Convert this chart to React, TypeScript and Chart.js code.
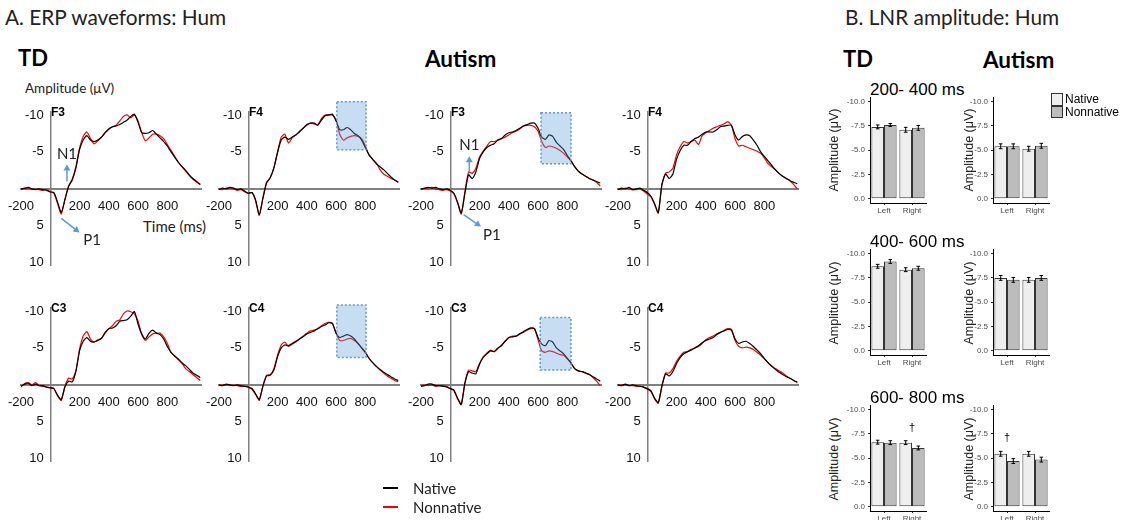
import React, { useEffect, useRef } from 'react';
import { Chart, registerables } from 'chart.js';

Chart.register(...registerables);

// ---------------- ERP data ----------------
const times = [-200, -175, -150, -125, -100, -75, -50, -25, 0, 25, 50, 75, 100, 125, 150, 175, 200, 225, 250, 275, 300, 325, 350, 375, 400, 425, 450, 475, 500, 525, 550, 575, 600, 625, 650, 675, 700, 725, 750, 775, 800, 825, 850, 875, 900, 925, 950, 975, 1000, 1025];
const erpXTicks = [-200, 200, 400, 600, 800];
const erpYTicks = [-10, -5, 5, 10];

const tdF3Native = [0, -0.1, -0.2, 0, 0.1, 0, 0.1, 0.2, 0.4, 0.5, 1.8, 3.2, 1.5, -0.3, -1.2, -2.8, -5.3, -6.6, -7.2, -6.6, -6.4, -6.6, -7.0, -7.6, -8.1, -8.4, -8.5, -8.7, -9.0, -9.3, -9.8, -10.1, -9.0, -7.6, -7.5, -7.6, -7.9, -7.4, -6.9, -6.4, -5.8, -5.0, -4.3, -3.6, -3.0, -2.5, -1.9, -1.4, -1.0, -0.6];
const tdF3Nonnative = [0.1, 0, -0.1, 0.1, 0, 0.1, 0.2, 0.1, 0.4, 0.6, 2.0, 3.4, 1.4, -0.4, -1.3, -3.0, -5.5, -7.1, -7.7, -6.8, -6.1, -6.5, -7.0, -7.6, -8.1, -8.4, -8.6, -9.2, -9.8, -10.0, -9.6, -10.0, -9.2, -7.6, -6.5, -6.9, -7.4, -7.4, -7.2, -6.8, -6.0, -5.2, -4.4, -3.6, -3.0, -2.4, -1.8, -1.3, -0.9, -0.6];

const tdF4Native = [0.1, -0.1, 0, -0.2, -0.1, 0.1, 0, 0.3, 0.6, 0.5, 1.5, 3.5, 1.3, -0.8, -1.5, -2.8, -4.9, -6.6, -7.0, -6.7, -7.0, -7.3, -7.7, -8.2, -8.7, -8.9, -8.9, -8.6, -9.3, -9.9, -10.0, -10.1, -9.2, -8.0, -8.0, -8.3, -8.0, -7.5, -7.2, -6.6, -5.6, -4.6, -4.0, -3.4, -3.0, -2.6, -2.1, -1.6, -1.2, -0.9];
const tdF4Nonnative = [0, 0.1, -0.1, -0.1, 0, 0.2, 0.1, 0.4, 0.6, 0.5, 1.6, 3.6, 1.2, -0.9, -1.5, -2.9, -5.0, -7.0, -7.4, -6.2, -6.9, -7.3, -7.8, -8.2, -8.6, -8.9, -8.8, -8.7, -9.5, -10.0, -10.0, -10.0, -9.3, -7.4, -6.6, -6.9, -7.1, -7.2, -7.1, -6.8, -5.8, -4.6, -4.0, -3.5, -2.6, -2.0, -1.7, -1.4, -1.2, -0.9];

const autF3Native = [0, -0.1, -0.2, -0.1, -0.2, 0, 0.1, 0, 0.2, 0.6, 1.8, 3.3, 0.6, -1.9, -1.4, -2.3, -4.1, -5.0, -5.6, -5.9, -6.1, -6.6, -6.8, -7.3, -7.6, -7.7, -7.9, -8.2, -8.5, -8.7, -8.9, -8.9, -8.2, -7.0, -6.7, -7.3, -7.1, -6.3, -5.8, -5.3, -4.5, -3.8, -3.0, -2.4, -2.0, -1.7, -1.4, -1.2, -1.0, -0.8];
const autF3Nonnative = [0.1, 0, -0.1, -0.2, 0, 0.1, 0.2, 0.1, 0.3, 0.7, 1.9, 3.4, 0.4, -2.3, -2.1, -2.8, -4.3, -5.1, -5.8, -6.4, -6.4, -6.6, -6.8, -7.0, -7.3, -7.6, -7.8, -8.1, -8.5, -8.6, -8.6, -8.4, -7.8, -6.4, -5.6, -5.8, -5.7, -5.5, -5.2, -4.8, -4.3, -3.8, -3.0, -2.4, -2.0, -1.7, -1.4, -1.2, -0.9, -0.4];

const autF4Native = [0.1, -0.1, 0, -0.2, 0.1, 0, -0.1, 0.2, 0.5, 1.0, 2.0, 3.2, -0.6, -2.0, -1.4, -2.0, -4.0, -5.2, -5.9, -5.9, -6.4, -6.8, -7.0, -7.4, -7.7, -7.7, -7.7, -8.0, -8.4, -8.5, -8.6, -8.6, -7.3, -6.6, -7.1, -7.3, -7.2, -6.6, -5.9, -5.0, -4.4, -3.8, -3.2, -2.6, -2.1, -1.7, -1.4, -1.1, -0.9, -0.7];
const autF4Nonnative = [0, 0.1, -0.1, 0, 0.1, 0.1, 0, 0.3, 0.7, 1.1, 2.1, 3.3, -0.5, -2.1, -2.3, -2.8, -4.6, -5.7, -6.4, -6.2, -6.4, -6.6, -6.0, -7.2, -7.6, -7.9, -8.2, -8.4, -8.6, -8.8, -9.1, -8.6, -6.8, -5.8, -5.9, -5.7, -5.5, -5.3, -5.1, -4.8, -4.2, -3.4, -3.0, -2.6, -2.1, -1.7, -1.4, -1.1, -0.6, 0.0];

const tdC3Native = [0.2, -0.1, -0.2, 0.1, -0.1, 0.1, 0.1, 0.3, 0.4, 0.5, 1.4, 2.0, 0.3, -0.5, -0.4, -1.8, -4.6, -5.9, -6.4, -5.9, -5.8, -6.0, -6.3, -7.1, -7.6, -7.7, -8.0, -8.6, -8.7, -8.8, -9.3, -9.9, -8.2, -6.9, -6.2, -7.0, -7.4, -7.0, -6.8, -6.2, -5.2, -4.4, -3.9, -3.5, -3.0, -2.6, -2.1, -1.6, -1.3, -1.0];
const tdC3Nonnative = [0.3, -0.2, -0.3, 0, -0.3, 0.1, 0.2, 0.3, 0.4, 0.5, 1.5, 2.1, 0.2, -0.9, -0.8, -1.9, -4.8, -6.6, -7.2, -6.2, -5.8, -6.1, -6.3, -7.0, -7.6, -8.0, -8.6, -8.8, -9.6, -10.0, -9.9, -9.6, -8.6, -6.8, -6.0, -6.5, -6.9, -7.0, -7.0, -6.5, -5.6, -4.4, -3.9, -3.4, -2.9, -2.2, -1.8, -1.4, -1.0, -0.6];

const tdC4Native = [0, 0.1, -0.1, 0, 0.1, 0, 0.1, 0.2, 0.3, 0.5, 1.2, 2.0, 0.2, -1.2, -1.3, -2.0, -3.8, -5.0, -5.4, -5.3, -5.6, -5.9, -6.2, -6.5, -6.9, -7.1, -7.3, -7.6, -7.9, -8.1, -8.4, -8.3, -7.0, -6.4, -6.6, -6.8, -6.6, -6.2, -5.6, -5.0, -4.4, -3.6, -3.0, -2.5, -2.1, -1.7, -1.4, -1.1, -0.8, -0.6];
const tdC4Nonnative = [0.1, 0, 0, 0.1, 0, 0.1, 0.2, 0.2, 0.3, 0.6, 1.3, 2.1, 0.1, -1.3, -1.4, -2.2, -4.0, -5.4, -5.8, -5.2, -5.5, -5.8, -6.2, -6.6, -7.0, -7.3, -7.4, -7.6, -8.0, -8.3, -8.5, -8.3, -7.0, -6.0, -6.0, -6.2, -6.3, -6.0, -5.6, -5.0, -4.4, -3.6, -3.0, -2.5, -2.0, -1.6, -1.2, -0.9, -0.6, -0.4];

const autC3Native = [0.2, 0.1, -0.1, -0.1, 0.1, 0.1, 0.2, 0.3, 0.5, 0.7, 1.8, 2.6, -0.2, -1.8, -1.6, -1.5, -2.8, -3.7, -4.2, -4.6, -4.5, -5.0, -5.3, -5.9, -6.4, -6.5, -6.6, -6.9, -7.2, -7.5, -7.7, -7.6, -6.4, -5.5, -5.3, -6.0, -5.8, -5.0, -4.6, -4.2, -3.6, -2.9, -2.2, -1.9, -1.8, -1.6, -1.4, -1.1, -0.8, -0.5];
const autC3Nonnative = [0.1, 0, 0.1, 0, 0.2, 0.1, 0.1, 0.2, 0.5, 0.8, 1.9, 2.7, -0.3, -2.0, -1.9, -1.8, -2.9, -3.8, -4.3, -4.7, -4.5, -4.9, -5.4, -5.9, -6.4, -6.6, -6.6, -6.9, -7.1, -7.4, -7.6, -7.6, -6.1, -4.6, -4.4, -4.6, -4.5, -4.3, -4.1, -4.0, -3.5, -3.0, -2.2, -1.9, -1.8, -1.6, -1.4, -1.0, -0.5, 0.1];

const autC4Native = [0, 0.1, -0.1, 0.1, 0, 0.1, 0.2, 0.3, 0.5, 0.8, 1.8, 2.4, 0.2, -1.5, -1.2, -1.8, -2.9, -3.7, -4.2, -4.5, -4.7, -5.0, -5.3, -5.7, -6.0, -6.2, -6.4, -6.8, -7.1, -7.3, -7.5, -7.4, -6.2, -5.6, -5.8, -5.9, -5.6, -5.2, -4.7, -4.2, -3.6, -3.0, -2.5, -2.1, -1.7, -1.4, -1.1, -0.9, -0.6, -0.4];
const autC4Nonnative = [0.1, 0, 0, 0.1, 0.1, 0.2, 0.2, 0.3, 0.6, 0.9, 1.9, 2.5, 0.1, -1.6, -1.6, -2.2, -3.2, -3.9, -4.4, -4.5, -4.8, -5.0, -5.2, -5.6, -6.1, -6.4, -6.6, -6.9, -7.1, -7.4, -7.6, -7.5, -6.0, -5.2, -5.0, -5.1, -5.0, -4.8, -4.4, -4.0, -3.5, -3.0, -2.6, -2.2, -1.9, -1.6, -1.2, -0.9, -0.6, -0.3];

// highlighted windows: [startMs, endMs, topValue, bottomValue]
const shadeTdF4 = [605, 805, -11.8, -5.3];
const shadeAutF3 = [620, 825, -10.3, -3.4];
const shadeTdC4 = [605, 805, -10.8, -3.7];
const shadeAutC3 = [615, 825, -9.1, -2.0];

// component annotations (data units: ms, µV)
const tdF3Notes = [
  { label: 'N1', from: [114, -1.0], to: [114, -3.3], text: [114, -4.7], align: 'center' },
  { label: 'P1', from: [75, 4.0], to: [200, 5.9], text: [226, 6.9], align: 'left' },
];
const autF3Notes = [
  { label: 'N1', from: [130, -2.3], to: [130, -4.4], text: [130, -5.9], align: 'center' },
  { label: 'P1', from: [91, 3.5], to: [210, 5.1], text: [224, 6.2], align: 'left' },
];

// ---------------- LNR amplitude data ----------------
const hemispheres = ['Left', 'Right'];
const ampTicks = [-10, -7.5, -5, -2.5, 0];
const windowLabels = ['200- 400 ms', '400- 600 ms', '600- 800 ms'];

const td200Native = [-7.4, -7.1];
const td200Nonnative = [-7.6, -7.3];
const td200NativeErr = [0.2, 0.25];
const td200NonnativeErr = [0.15, 0.25];
const aut200Native = [-5.4, -5.15];
const aut200Nonnative = [-5.4, -5.45];
const aut200NativeErr = [0.25, 0.25];
const aut200NonnativeErr = [0.25, 0.25];

const td400Native = [-8.7, -8.35];
const td400Nonnative = [-9.2, -8.5];
const td400NativeErr = [0.2, 0.2];
const td400NonnativeErr = [0.2, 0.2];
const aut400Native = [-7.5, -7.3];
const aut400Nonnative = [-7.3, -7.5];
const aut400NativeErr = [0.25, 0.25];
const aut400NonnativeErr = [0.25, 0.25];

const td600Native = [-6.65, -6.6];
const td600Nonnative = [-6.6, -6.05];
const td600NativeErr = [0.2, 0.2];
const td600NonnativeErr = [0.2, 0.2];
const aut600Native = [-5.45, -5.45];
const aut600Nonnative = [-4.7, -4.85];
const aut600NativeErr = [0.25, 0.25];
const aut600NonnativeErr = [0.25, 0.25];

const td600Dagger = [null, -8.1];
const aut600Dagger = [-7.1, null];

// ---------------- layout constants ----------------
const ARIAL = "'Liberation Sans', Arial, sans-serif";
const LATO = "Lato, 'Open Sans', sans-serif";

const E_XMIN = -200, E_XMAX = 1030, E_YMIN = -10.4, E_YMAX = 10.3;
const E_W = 180, E_H = 153;
const E_PL = 28, E_PR = 8, E_PT = 16, E_PB = 12;

function makeErpDecor(shade: number[] | null, notes: any[] | null) {
  return {
    id: 'erpDecor',
    afterDatasetsDraw(chart: any) {
      const { ctx, scales } = chart;
      const x = scales.x, y = scales.y;
      if (shade) {
        const px0 = x.getPixelForValue(shade[0]);
        const px1 = x.getPixelForValue(shade[1]);
        const py0 = y.getPixelForValue(shade[2]);
        const py1 = y.getPixelForValue(shade[3]);
        ctx.save();
        ctx.fillStyle = 'rgba(91,155,213,0.34)';
        ctx.fillRect(px0, Math.min(py0, py1), px1 - px0, Math.abs(py1 - py0));
        ctx.setLineDash([2, 2]);
        ctx.strokeStyle = '#5b9bd5';
        ctx.lineWidth = 1.5;
        ctx.strokeRect(px0, Math.min(py0, py1), px1 - px0, Math.abs(py1 - py0));
        ctx.restore();
      }
      if (notes) {
        ctx.save();
        for (const n of notes) {
          const x0 = x.getPixelForValue(n.from[0]), y0 = y.getPixelForValue(n.from[1]);
          const x1 = x.getPixelForValue(n.to[0]), y1 = y.getPixelForValue(n.to[1]);
          const ang = Math.atan2(y1 - y0, x1 - x0);
          const hl = 6, hw = 3.5;
          ctx.strokeStyle = '#5b9bd5';
          ctx.fillStyle = '#5b9bd5';
          ctx.lineWidth = 1.5;
          ctx.beginPath();
          ctx.moveTo(x0, y0);
          ctx.lineTo(x1 - Math.cos(ang) * hl * 0.8, y1 - Math.sin(ang) * hl * 0.8);
          ctx.stroke();
          ctx.beginPath();
          ctx.moveTo(x1, y1);
          ctx.lineTo(x1 - Math.cos(ang) * hl - Math.sin(ang) * hw, y1 - Math.sin(ang) * hl + Math.cos(ang) * hw);
          ctx.lineTo(x1 - Math.cos(ang) * hl + Math.sin(ang) * hw, y1 - Math.sin(ang) * hl - Math.cos(ang) * hw);
          ctx.closePath();
          ctx.fill();
          ctx.fillStyle = '#222';
          ctx.font = `15px ${LATO}`;
          ctx.textAlign = n.align;
          ctx.textBaseline = 'middle';
          ctx.fillText(n.label, x.getPixelForValue(n.text[0]), y.getPixelForValue(n.text[1]));
        }
        ctx.restore();
      }
    },
  };
}

function ErpPanel(props: { axisX: number; zeroY: number; native: number[]; nonnative: number[]; shade?: number[] | null; notes?: any[] | null }) {
  const ref = useRef<HTMLCanvasElement>(null);
  const { axisX, zeroY, native, nonnative, shade = null, notes = null } = props;
  const pxMs = E_W / (E_XMAX - E_XMIN);
  const pxU = E_H / (E_YMAX - E_YMIN);
  const left = axisX - (0 - E_XMIN) * pxMs - E_PL;
  const top = zeroY - (0 - E_YMIN) * pxU - E_PT;
  const cw = E_PL + E_W + E_PR;
  const ch = E_PT + E_H + E_PB;
  useEffect(() => {
    const axisColor = '#808080';
    const chart = new Chart(ref.current as HTMLCanvasElement, {
      type: 'line',
      data: {
        datasets: [
          { label: 'Native', data: times.map((t, i) => ({ x: t, y: native[i] })), borderColor: '#000000', borderWidth: 1.2, pointRadius: 0, tension: 0.2 },
          { label: 'Nonnative', data: times.map((t, i) => ({ x: t, y: nonnative[i] })), borderColor: '#ff0000', borderWidth: 1.2, pointRadius: 0, tension: 0.2 },
        ],
      },
      options: {
        animation: false,
        responsive: false,
        maintainAspectRatio: false,
        events: [],
        layout: { padding: { left: E_PL, right: E_PR, top: E_PT, bottom: E_PB } },
        plugins: { legend: { display: false }, tooltip: { enabled: false } },
        scales: {
          x: {
            type: 'linear', min: E_XMIN, max: E_XMAX,
            position: { y: 0 } as any,
            grid: { display: false, drawTicks: false },
            border: { display: true, color: axisColor, width: 2 },
            afterBuildTicks: (s: any) => { s.ticks = erpXTicks.map((v) => ({ value: v })); },
            ticks: { callback: (v: any) => String(v), font: { family: ARIAL, size: 13 }, color: '#111', padding: 10, maxRotation: 0, autoSkip: false },
          },
          y: {
            type: 'linear', reverse: true, min: E_YMIN, max: E_YMAX,
            position: { x: 0 } as any,
            grid: { display: false, drawTicks: false },
            border: { display: true, color: axisColor, width: 1.5 },
            afterBuildTicks: (s: any) => { s.ticks = erpYTicks.map((v) => ({ value: v })); },
            ticks: { callback: (v: any) => `${v}\u2002`, font: { family: ARIAL, size: 13 }, color: '#111', padding: 0, autoSkip: false },
          },
        },
      } as any,
      plugins: [makeErpDecor(shade, notes)],
    });
    return () => chart.destroy();
  }, []);
  return <canvas ref={ref} width={cw} height={ch} style={{ position: 'absolute', left, top, width: cw, height: ch }} />;
}

// ---------------- bar panels ----------------
const B_YMIN = -10.4, B_YMAX = 0.45;
const B_W = 56, B_H = 107, B_AXW = 40, B_AXH = 14, B_PT = 6, B_PR = 4;

function makeBarDecor(errs: number[][], dagger: (number | null)[] | null) {
  return {
    id: 'barDecor',
    afterDatasetsDraw(chart: any) {
      const { ctx, scales } = chart;
      const y = scales.y, x = scales.x;
      ctx.save();
      ctx.strokeStyle = '#000';
      ctx.lineWidth = 1;
      chart.data.datasets.forEach((ds: any, di: number) => {
        const meta = chart.getDatasetMeta(di);
        meta.data.forEach((bar: any, j: number) => {
          const v = ds.data[j];
          const e = errs[di][j];
          const ya = y.getPixelForValue(v - e), yb = y.getPixelForValue(v + e);
          const bx = bar.x;
          ctx.beginPath();
          ctx.moveTo(bx, ya); ctx.lineTo(bx, yb);
          ctx.moveTo(bx - 1.8, ya); ctx.lineTo(bx + 1.8, ya);
          ctx.moveTo(bx - 1.8, yb); ctx.lineTo(bx + 1.8, yb);
          ctx.stroke();
        });
      });
      if (dagger) {
        ctx.fillStyle = '#000';
        ctx.font = `11px ${ARIAL}`;
        ctx.textAlign = 'center';
        ctx.textBaseline = 'middle';
        dagger.forEach((d, j) => {
          if (d === null) return;
          ctx.fillText('\u2020', x.getPixelForValue(j), y.getPixelForValue(d));
        });
      }
      ctx.restore();
    },
  };
}

function BarPanel(props: { axisX: number; zeroY: number; native: number[]; nonnative: number[]; nativeErr: number[]; nonnativeErr: number[]; dagger?: (number | null)[] | null }) {
  const ref = useRef<HTMLCanvasElement>(null);
  const { axisX, zeroY, native, nonnative, nativeErr, nonnativeErr, dagger = null } = props;
  const pxU = B_H / (B_YMAX - B_YMIN);
  const left = axisX - B_AXW;
  const top = zeroY - (0 - B_YMIN) * pxU - B_PT;
  const cw = B_AXW + B_W + B_PR;
  const ch = B_PT + B_H + B_AXH;
  useEffect(() => {
    const chart = new Chart(ref.current as HTMLCanvasElement, {
      type: 'bar',
      data: {
        labels: hemispheres,
        datasets: [
          { label: 'Native', data: native, backgroundColor: '#eeeeee', borderColor: '#333333', borderWidth: 1, borderSkipped: false, categoryPercentage: 0.9, barPercentage: 1 },
          { label: 'Nonnative', data: nonnative, backgroundColor: '#bcbcbc', borderColor: '#333333', borderWidth: 1, borderSkipped: false, categoryPercentage: 0.9, barPercentage: 1 },
        ],
      },
      options: {
        animation: false,
        responsive: false,
        maintainAspectRatio: false,
        events: [],
        layout: { padding: { left: 0, right: B_PR, top: B_PT, bottom: 0 } },
        plugins: { legend: { display: false }, tooltip: { enabled: false } },
        scales: {
          x: {
            grid: { drawOnChartArea: false, offset: false, tickLength: 2, color: '#333' },
            border: { display: true, color: '#000', width: 1 },
            ticks: { font: { family: ARIAL, size: 8 }, color: '#4d4d4d', padding: 1 },
            afterFit: (s: any) => { s.height = B_AXH; },
          },
          y: {
            type: 'linear', reverse: true, min: B_YMIN, max: B_YMAX,
            grid: { drawOnChartArea: false, tickLength: 2, color: '#333' },
            border: { display: true, color: '#000', width: 1 },
            afterBuildTicks: (s: any) => { s.ticks = ampTicks.map((v) => ({ value: v })); },
            ticks: { callback: (v: any) => Number(v).toFixed(1), font: { family: ARIAL, size: 8 }, color: '#4d4d4d', padding: 3 },
            afterFit: (s: any) => { s.width = B_AXW; },
          },
        },
      } as any,
      plugins: [makeBarDecor([nativeErr, nonnativeErr], dagger)],
    });
    return () => chart.destroy();
  }, []);
  return <canvas ref={ref} width={cw} height={ch} style={{ position: 'absolute', left, top, width: cw, height: ch }} />;
}

function Txt(p: { x: number; y: number; text: string; size: number; bold?: boolean; family?: string; color?: string; rotate?: boolean; center?: boolean }) {
  const style: React.CSSProperties = {
    position: 'absolute',
    left: p.x,
    top: p.y,
    fontSize: p.size,
    lineHeight: 1.2,
    fontFamily: p.family || LATO,
    fontWeight: p.bold ? 700 : 400,
    color: p.color || '#222',
    whiteSpace: 'nowrap',
    transform: p.rotate ? 'translate(-50%,-50%) rotate(-90deg)' : p.center ? 'translate(-50%,-50%)' : 'translateY(-50%)',
  };
  return <div style={style}>{p.text}</div>;
}

const ERP_AXES_X = [50, 248, 450, 647];
const ERP_ZERO_Y = [189, 385];
const BAR_AXES_X = [869.5, 993];
const BAR_ZERO_Y = [198.3, 351, 506.7];

export default function App() {
  const erpRows = [
    [
      { native: tdF3Native, nonnative: tdF3Nonnative, ch: 'F3', shade: null, notes: tdF3Notes },
      { native: tdF4Native, nonnative: tdF4Nonnative, ch: 'F4', shade: shadeTdF4, notes: null },
      { native: autF3Native, nonnative: autF3Nonnative, ch: 'F3', shade: shadeAutF3, notes: autF3Notes },
      { native: autF4Native, nonnative: autF4Nonnative, ch: 'F4', shade: null, notes: null },
    ],
    [
      { native: tdC3Native, nonnative: tdC3Nonnative, ch: 'C3', shade: null, notes: null },
      { native: tdC4Native, nonnative: tdC4Nonnative, ch: 'C4', shade: shadeTdC4, notes: null },
      { native: autC3Native, nonnative: autC3Nonnative, ch: 'C3', shade: shadeAutC3, notes: null },
      { native: autC4Native, nonnative: autC4Nonnative, ch: 'C4', shade: null, notes: null },
    ],
  ];
  const barRows = [
    [
      { native: td200Native, nonnative: td200Nonnative, ne: td200NativeErr, nne: td200NonnativeErr, dagger: null },
      { native: aut200Native, nonnative: aut200Nonnative, ne: aut200NativeErr, nne: aut200NonnativeErr, dagger: null },
    ],
    [
      { native: td400Native, nonnative: td400Nonnative, ne: td400NativeErr, nne: td400NonnativeErr, dagger: null },
      { native: aut400Native, nonnative: aut400Nonnative, ne: aut400NativeErr, nne: aut400NonnativeErr, dagger: null },
    ],
    [
      { native: td600Native, nonnative: td600Nonnative, ne: td600NativeErr, nne: td600NonnativeErr, dagger: td600Dagger },
      { native: aut600Native, nonnative: aut600Nonnative, ne: aut600NativeErr, nne: aut600NonnativeErr, dagger: aut600Dagger },
    ],
  ];
  const barAreaTop = (z: number) => z - (0 - B_YMIN) * (B_H / (B_YMAX - B_YMIN));
  return (
    <div style={{ position: 'absolute', left: 0, top: 0, width: 1127, height: 520, background: '#fff', overflow: 'hidden' }}>
      <Txt x={5} y={17} text="A. ERP waveforms: Hum" size={20.8} />
      <Txt x={845} y={17} text="B. LNR amplitude: Hum" size={20.8} />
      <Txt x={18} y={58} text="TD" size={22} bold color="#000" />
      <Txt x={425} y={58} text="Autism" size={22.5} bold color="#000" />
      <Txt x={843} y={59} text="TD" size={22} bold color="#000" />
      <Txt x={983} y={59} text="Autism" size={22.5} bold color="#000" />
      <Txt x={25} y={88} text="Amplitude (μV)" size={13.5} />
      <Txt x={143} y={226} text="Time (ms)" size={15} />

      {erpRows.map((row, ri) =>
        row.map((p, ci) => (
          <ErpPanel key={`e${ri}${ci}`} axisX={ERP_AXES_X[ci]} zeroY={ERP_ZERO_Y[ri]} native={p.native} nonnative={p.nonnative} shade={p.shade} notes={p.notes} />
        ))
      )}
      {erpRows.map((row, ri) =>
        row.map((p, ci) => (
          <Txt key={`c${ri}${ci}`} x={ERP_AXES_X[ci] + 1} y={ERP_ZERO_Y[ri] - 77} text={p.ch} size={12} bold family={ARIAL} color="#000" />
        ))
      )}

      {/* ERP legend */}
      <div style={{ position: 'absolute', left: 383, top: 487, width: 15, height: 2, background: '#000' }} />
      <div style={{ position: 'absolute', left: 383, top: 506, width: 15, height: 2, background: '#ff0000' }} />
      <Txt x={413} y={488} text="Native" size={15} />
      <Txt x={413} y={507} text="Nonnative" size={15} />

      {/* LNR bars */}
      {barRows.map((row, ri) => (
        <React.Fragment key={`b${ri}`}>
          <Txt x={870} y={barAreaTop(BAR_ZERO_Y[ri]) - 6} text={windowLabels[ri]} size={17} family={ARIAL} color="#000" />
          {row.map((p, ci) => (
            <React.Fragment key={`bp${ri}${ci}`}>
              <Txt x={ci === 0 ? 834 : 969} y={BAR_ZERO_Y[ri] - 48} text="Amplitude (μV)" size={12.5} family={ARIAL} color="#222" rotate />
              <BarPanel axisX={BAR_AXES_X[ci]} zeroY={BAR_ZERO_Y[ri]} native={p.native} nonnative={p.nonnative} nativeErr={p.ne} nonnativeErr={p.nne} dagger={p.dagger} />
            </React.Fragment>
          ))}
        </React.Fragment>
      ))}

      {/* bar legend */}
      <div style={{ position: 'absolute', left: 1050.5, top: 93, width: 12.5, height: 12.5, background: '#eeeeee', border: '1px solid #333', boxSizing: 'border-box' }} />
      <div style={{ position: 'absolute', left: 1050.5, top: 105.5, width: 12.5, height: 12.5, background: '#bcbcbc', border: '1px solid #333', boxSizing: 'border-box' }} />
      <Txt x={1065} y={99} text="Native" size={12} family={ARIAL} color="#000" />
      <Txt x={1065} y={111.5} text="Nonnative" size={12} family={ARIAL} color="#000" />
    </div>
  );
}
